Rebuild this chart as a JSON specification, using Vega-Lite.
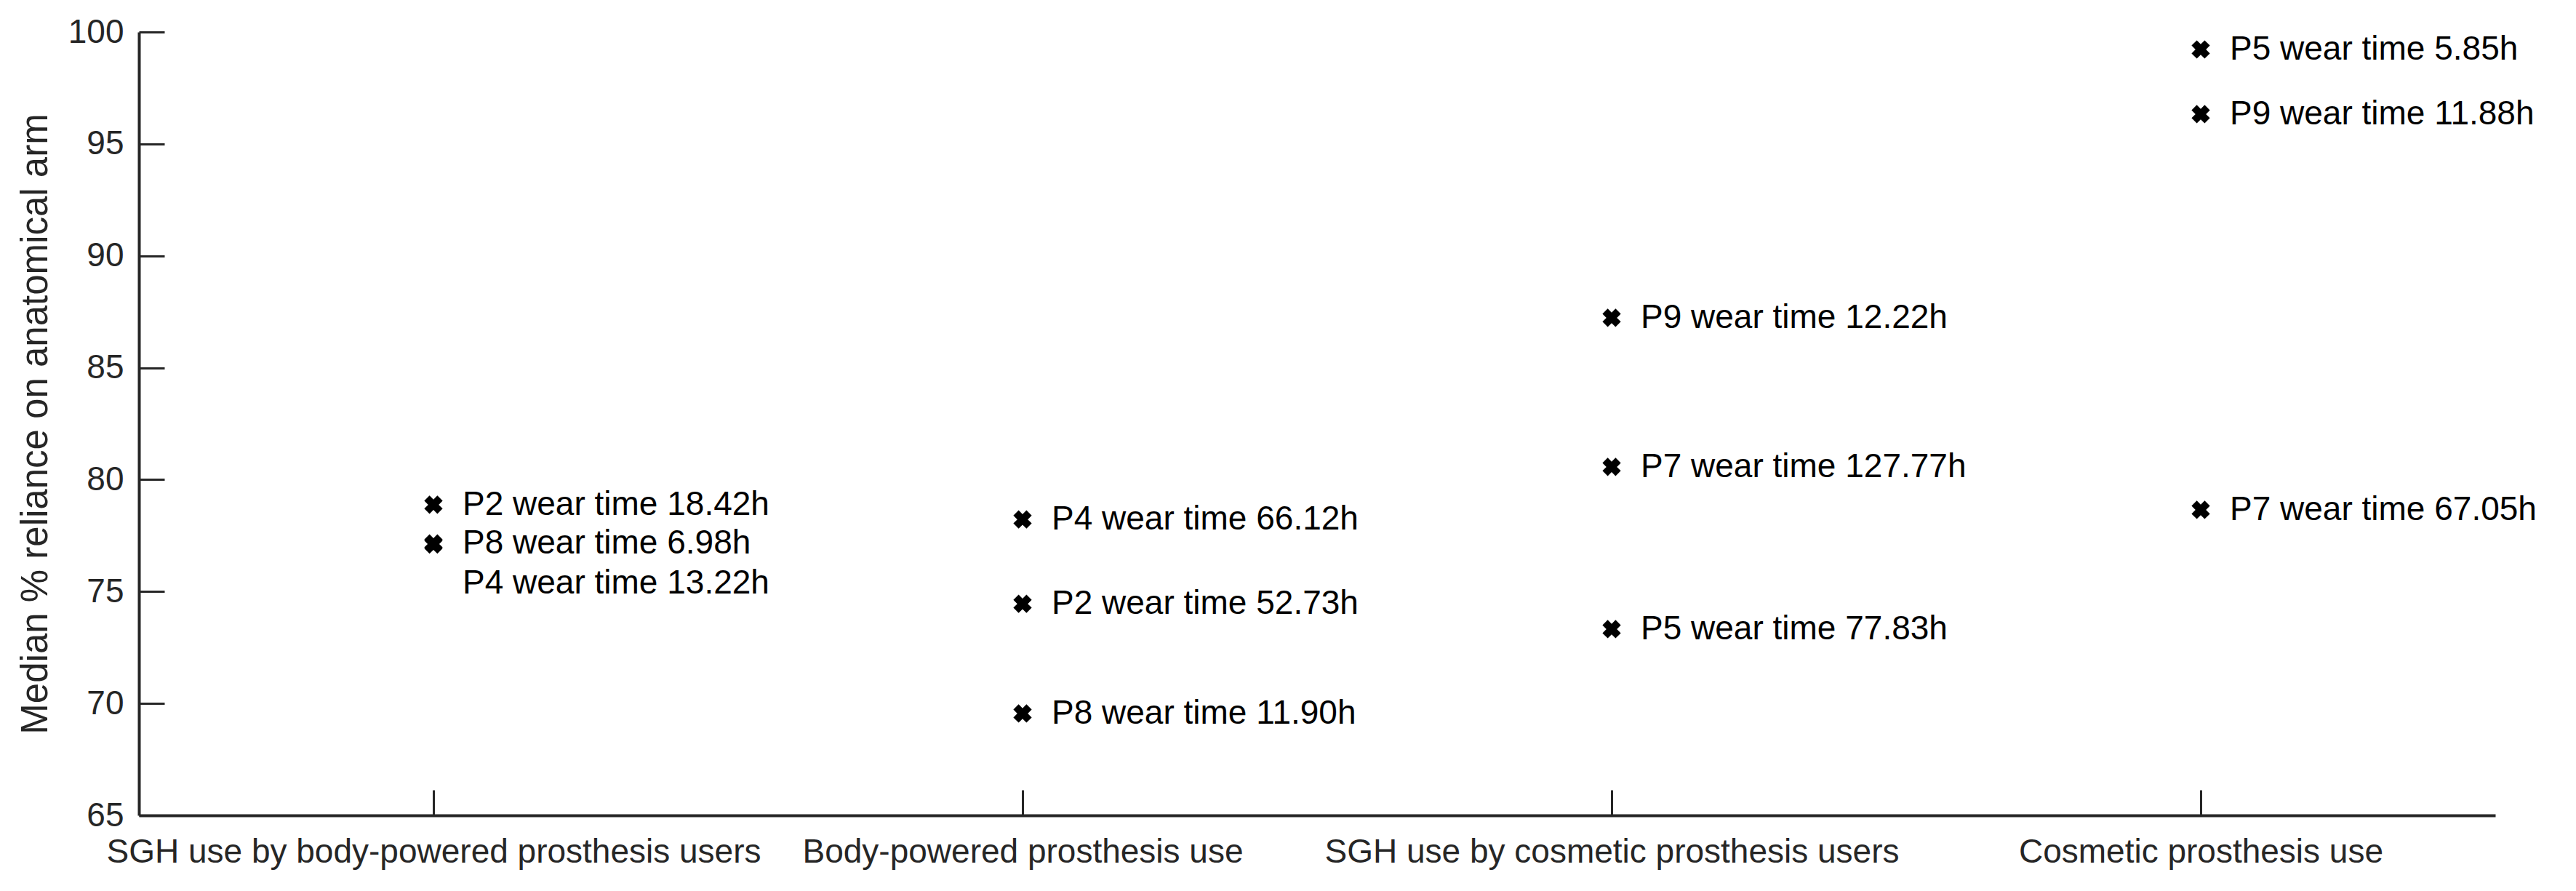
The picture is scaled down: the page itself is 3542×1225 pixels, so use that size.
{
  "$schema": "https://vega.github.io/schema/vega-lite/v6.json",
  "width": 3240,
  "height": 1077,
  "autosize": {"type": "none"},
  "padding": {"left": 191, "top": 44, "right": 111, "bottom": 104},
  "background": "white",
  "config": {"view": {"stroke": null}, "font": "Liberation Sans"},
  "data": {
    "values": [
      {"condition": "SGH use by body-powered prosthesis users", "participant": "P2", "reliance": 78.88, "label": "P2 wear time 18.42h"},
      {"condition": "SGH use by body-powered prosthesis users", "participant": "P8", "reliance": 77.15, "label": "P8 wear time 6.98h"},
      {"condition": "SGH use by body-powered prosthesis users", "participant": "P4", "reliance": 77.1, "label": "P4 wear time 13.22h"},
      {"condition": "Body-powered prosthesis use", "participant": "P4", "reliance": 78.22, "label": "P4 wear time 66.12h"},
      {"condition": "Body-powered prosthesis use", "participant": "P2", "reliance": 74.45, "label": "P2 wear time 52.73h"},
      {"condition": "Body-powered prosthesis use", "participant": "P8", "reliance": 69.55, "label": "P8 wear time 11.90h"},
      {"condition": "SGH use by cosmetic prosthesis users", "participant": "P9", "reliance": 87.23, "label": "P9 wear time 12.22h"},
      {"condition": "SGH use by cosmetic prosthesis users", "participant": "P7", "reliance": 80.57, "label": "P7 wear time 127.77h"},
      {"condition": "SGH use by cosmetic prosthesis users", "participant": "P5", "reliance": 73.32, "label": "P5 wear time 77.83h"},
      {"condition": "Cosmetic prosthesis use", "participant": "P5", "reliance": 99.22, "label": "P5 wear time 5.85h"},
      {"condition": "Cosmetic prosthesis use", "participant": "P9", "reliance": 96.33, "label": "P9 wear time 11.88h"},
      {"condition": "Cosmetic prosthesis use", "participant": "P7", "reliance": 78.65, "label": "P7 wear time 67.05h"}
    ]
  },
  "encoding": {
    "x": {
      "field": "condition",
      "type": "nominal",
      "sort": null,
      "scale": {
        "type": "point",
        "padding": 0.5,
        "domain": ["SGH use by body-powered prosthesis users", "Body-powered prosthesis use", "SGH use by cosmetic prosthesis users", "Cosmetic prosthesis use"]
      },
      "axis": {
        "title": null,
        "labelAngle": 0,
        "labelFontSize": 46,
        "labelColor": "#262626",
        "labelPadding": 63,
        "labelLimit": 0,
        "domainColor": "#262626",
        "domainWidth": 4,
        "tickColor": "#262626",
        "tickWidth": 3,
        "tickSize": -35,
        "grid": false
      }
    },
    "y": {
      "field": "reliance",
      "type": "quantitative",
      "scale": {"domain": [65, 100], "nice": false, "zero": false},
      "axis": {
        "title": "Median % reliance on anatomical arm",
        "titleFontSize": 51,
        "titleFontWeight": "normal",
        "titleColor": "#262626",
        "titlePadding": 18,
        "values": [65, 70, 75, 80, 85, 90, 95, 100],
        "labelFontSize": 46,
        "labelColor": "#262626",
        "labelPadding": 56,
        "domainColor": "#262626",
        "domainWidth": 4,
        "tickColor": "#262626",
        "tickWidth": 3,
        "tickSize": -35,
        "grid": false
      }
    }
  },
  "layer": [
    {
      "mark": {"type": "point", "shape": "cross", "angle": 45, "filled": true, "size": 650, "color": "black", "opacity": 1}
    },
    {
      "transform": [{"filter": "!(datum.participant == 'P4' && datum.condition == 'SGH use by body-powered prosthesis users')"}],
      "mark": {"type": "text", "align": "left", "baseline": "middle", "dx": 40, "fontSize": 46, "color": "black"},
      "encoding": {"text": {"field": "label"}}
    },
    {
      "transform": [{"filter": "datum.participant == 'P4' && datum.condition == 'SGH use by body-powered prosthesis users'"}],
      "mark": {"type": "text", "align": "left", "baseline": "middle", "dx": 40, "dy": 53, "fontSize": 46, "color": "black"},
      "encoding": {"text": {"field": "label"}}
    }
  ]
}
